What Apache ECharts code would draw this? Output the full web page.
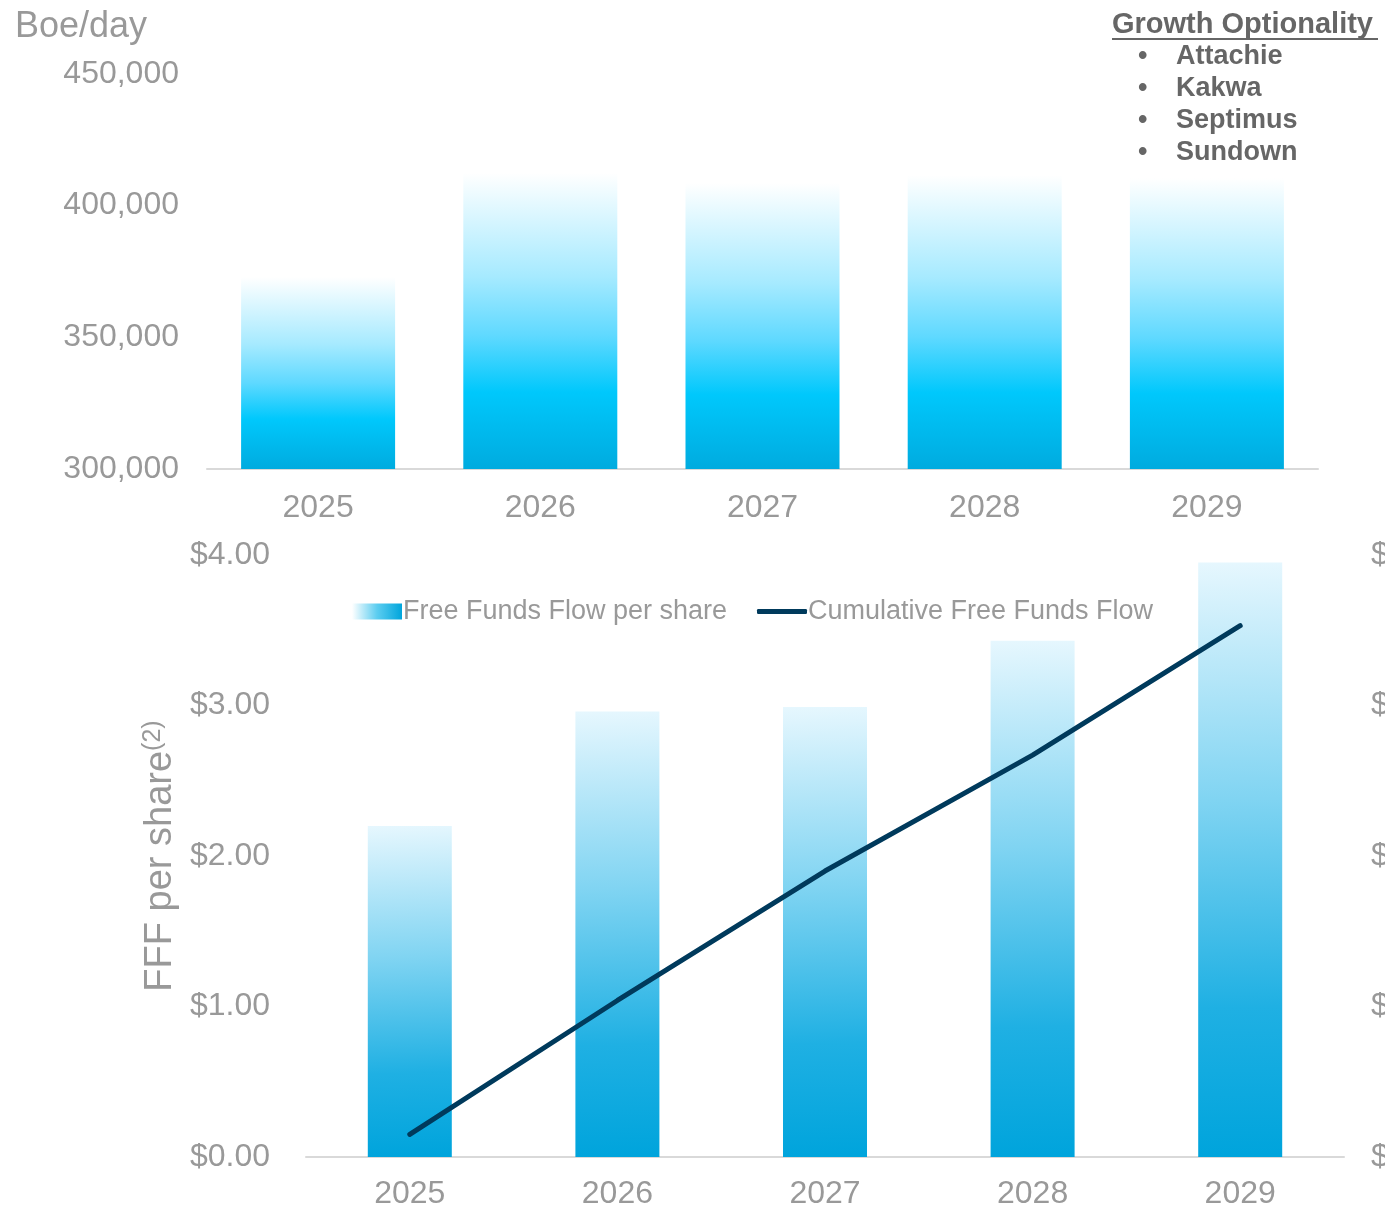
<!DOCTYPE html>
<html>
<head>
<meta charset="utf-8">
<script src="https://cdn.jsdelivr.net/npm/echarts@6/dist/echarts.min.js"></script>
<style>
  html, body { margin: 0; padding: 0; background: #fff; }
  #chart { width: 1385px; height: 1209px; }
</style>
</head>
<body>
<div id="chart"></div>
<script>
const years = ["2025", "2026", "2027", "2028", "2029"];
const production = [372900, 412400, 408600, 411600, 410500];
const fffPerShare = [2.2, 2.96, 2.99, 3.43, 3.95];
const cumulativeFff = [0.15, 1.04, 1.9, 2.67, 3.53];
const optionality = ["Attachie", "Kakwa", "Septimus", "Sundown"];

const FONT = "Liberation Sans, Arial, sans-serif";
const GREY = "#999999";

const withCommas = (v) => String(v).replace(/\B(?=(\d{3})+(?!\d))/g, ",");

const chart = echarts.init(document.getElementById("chart"), null, { renderer: "canvas" });

const topBarColor = new echarts.graphic.LinearGradient(0, 0, 0, 1, [
  { offset: 0, color: "#ffffff" },
  { offset: 0.35, color: "#a6eaff" },
  { offset: 0.55, color: "#5fd9ff" },
  { offset: 0.74, color: "#00c8fc" },
  { offset: 1, color: "#00abdf" },
]);

const fffBarColor = new echarts.graphic.LinearGradient(0, 0, 0.15, 1, [
  { offset: 0, color: "#e6f7fe" },
  { offset: 0.4, color: "#80d4f2" },
  { offset: 0.75, color: "#1fb0e3" },
  { offset: 1, color: "#00a4dc" },
]);

// bullet list in the top right corner
const listGraphics = [
  {
    type: "text", left: 1112, top: 10,
    style: { text: "Growth Optionality", font: "bold 29px " + FONT, fill: "#666666" },
  },
  {
    type: "rect", shape: { x: 1112, y: 38, width: 266, height: 2 },
    style: { fill: "#666666" },
  },
];
optionality.forEach((name, i) => {
  listGraphics.push({
    type: "text", left: 1138, top: 43 + i * 32,
    style: { text: "•", font: "bold 27px " + FONT, fill: "#666666" },
  });
  listGraphics.push({
    type: "text", left: 1176, top: 43 + i * 32,
    style: { text: name, font: "bold 27px " + FONT, fill: "#666666" },
  });
});

chart.setOption({
  backgroundColor: "#fff",
  animation: false,
  textStyle: { fontFamily: FONT },
  graphic: [
    {
      type: "text", left: 15, top: 9,
      style: { text: "Boe/day", font: "36px " + FONT, fill: GREY },
    },
    ...listGraphics,
  ],
  legend: [
    {
      top: 593,
      left: 347,
      itemWidth: 50,
      itemHeight: 16,
      textStyle: { color: GREY, fontSize: 27, fontFamily: FONT, padding: [0, 0, 0, -4] },
      data: [
        {
          name: "Free Funds Flow per share",
          icon: "rect",
          itemStyle: {
            color: new echarts.graphic.LinearGradient(0, 0, 1, 0, [
              { offset: 0, color: "#ffffff" },
              { offset: 0.5, color: "#5ccdf0" },
              { offset: 1, color: "#00a5dc" },
            ]),
          },
        },
      ],
    },
    {
      top: 593,
      left: 752,
      itemWidth: 50,
      itemHeight: 5,
      textStyle: { color: GREY, fontSize: 27, fontFamily: FONT, padding: [0, 0, 0, -4] },
      data: [
        { name: "Cumulative Free Funds Flow", icon: "roundRect", itemStyle: { color: "#003a5c" } },
      ],
    },
  ],
  grid: [
    { left: 207, right: 1385 - 1318, top: 74, height: 395, outerBoundsMode: "none" },
    { left: 306, right: 1385 - 1344, top: 555, height: 602, outerBoundsMode: "none" },
  ],
  xAxis: [
    {
      type: "category", gridIndex: 0, data: years,
      axisLine: { lineStyle: { color: "#d9d9d9", width: 2 } },
      axisTick: { show: false },
      axisLabel: { color: GREY, fontSize: 32, margin: 23 },
    },
    {
      type: "category", gridIndex: 1, data: years,
      axisLine: { lineStyle: { color: "#d9d9d9", width: 2 } },
      axisTick: { show: false },
      axisLabel: { color: GREY, fontSize: 32, margin: 21 },
    },
  ],
  yAxis: [
    {
      type: "value", gridIndex: 0, min: 300000, max: 450000, interval: 50000,
      splitLine: { show: false },
      axisLabel: { color: GREY, fontSize: 32, margin: 28, formatter: (v) => withCommas(v) },
    },
    {
      type: "value", gridIndex: 1, min: 0, max: 4, interval: 1,
      splitLine: { show: false },
      axisLabel: { color: GREY, fontSize: 32, margin: 36, formatter: (v) => "$" + v.toFixed(2) },
      name: "{a|FFF per share}{b|(2)}",
      nameLocation: "middle",
      nameRotate: 90,
      nameGap: 124,
      nameTextStyle: {
        rich: {
          a: { color: GREY, fontSize: 38, fontFamily: FONT },
          b: { color: GREY, fontSize: 25, fontFamily: FONT, verticalAlign: "top", padding: [0, 0, 12, 0] },
        },
      },
    },
    {
      type: "value", gridIndex: 1, position: "right", min: 0, max: 4, interval: 1,
      splitLine: { show: false },
      axisLine: { show: false },
      axisLabel: { color: GREY, fontSize: 32, margin: 27, formatter: (v) => "$" + v.toFixed(1) + "B" },
    },
  ],
  series: [
    {
      name: "Production",
      type: "bar",
      xAxisIndex: 0, yAxisIndex: 0,
      barWidth: 154,
      data: production,
      itemStyle: { color: topBarColor },
    },
    {
      name: "Free Funds Flow per share",
      type: "bar",
      xAxisIndex: 1, yAxisIndex: 1,
      barWidth: 84,
      data: fffPerShare,
      itemStyle: { color: fffBarColor },
    },
    {
      name: "Cumulative Free Funds Flow",
      type: "line",
      xAxisIndex: 1, yAxisIndex: 2,
      data: cumulativeFff,
      symbol: "none",
      lineStyle: { color: "#003a5c", width: 5, cap: "round" },
      itemStyle: { color: "#003a5c" },
    },
  ],
});
</script>
</body>
</html>
